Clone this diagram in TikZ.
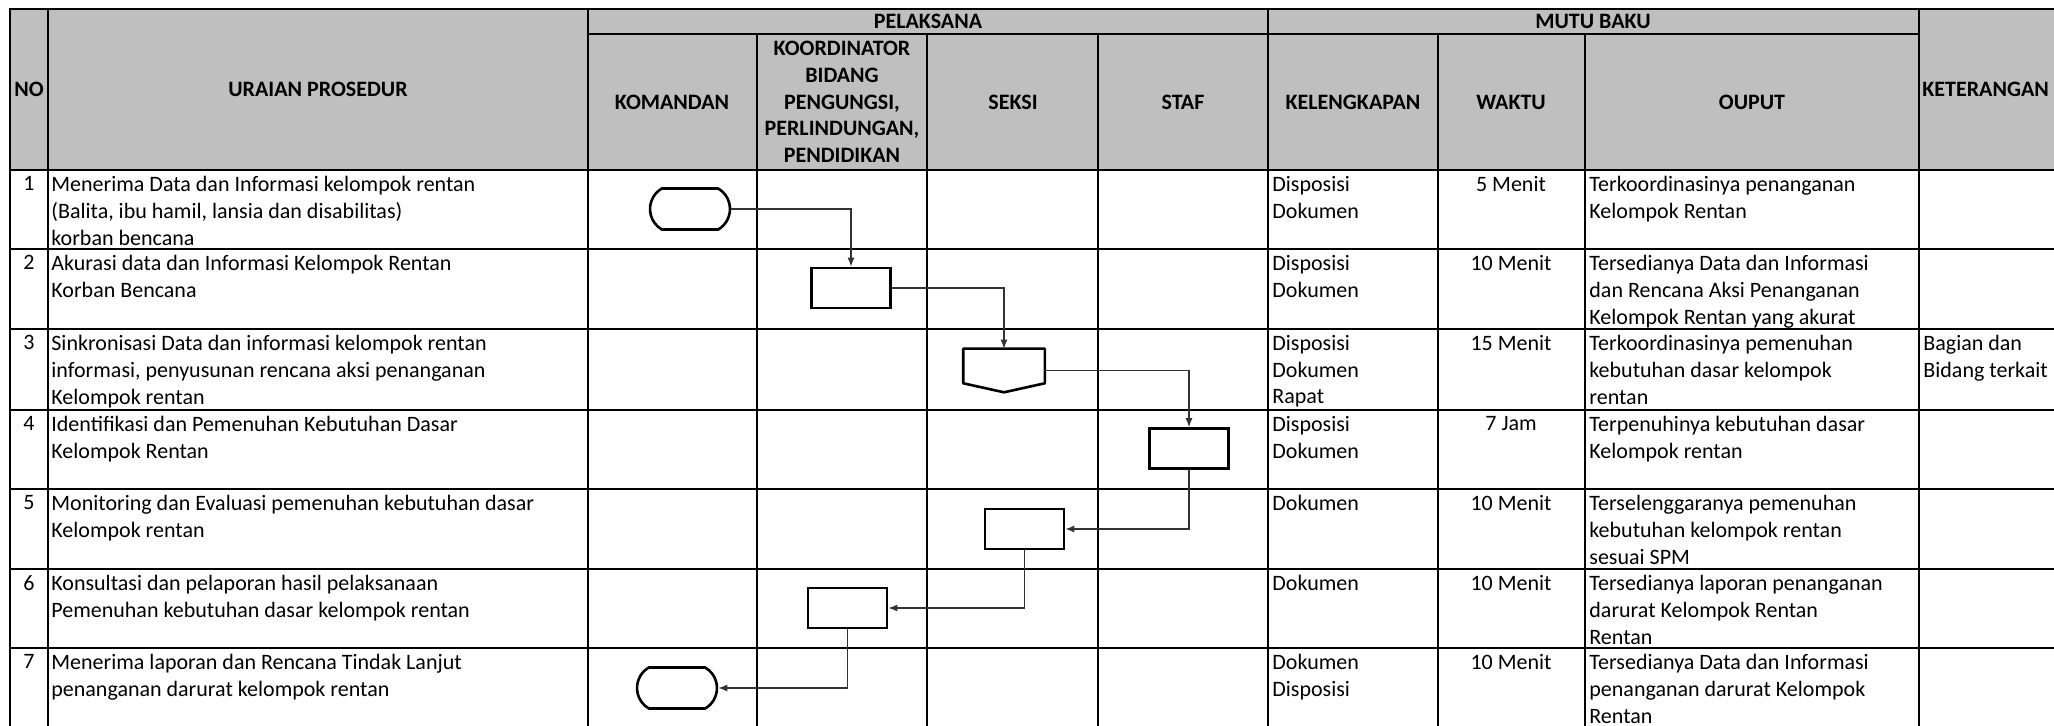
\documentclass[tikz,border=0pt]{standalone}
\usepackage{fontspec}
\setmainfont{Carlito}
\usetikzlibrary{arrows.meta,shapes.misc}

\definecolor{hdrgray}{RGB}{191,191,191}
\newcommand{\sopfont}{\fontsize{11}{13.35}\selectfont}

\begin{document}
\begin{tikzpicture}[x=0.5pt,y=-0.5pt,
		tabline/.style={line width=1.3pt,line cap=rect},
		hdr/.style={font=\sopfont\bfseries,align=center,inner sep=0pt},
		cell/.style={font=\sopfont,anchor=north west,align=left,inner sep=0pt},
		cellc/.style={font=\sopfont,anchor=north,align=center,inner sep=0pt},
		proc/.style={draw,line width=1.3pt,minimum width=39.5pt,minimum height=20pt,inner sep=0pt},
		term/.style={draw,rounded rectangle,rounded rectangle arc length=120,line width=1.3pt,minimum width=40pt,minimum height=20.5pt,inner sep=0pt},
		flow/.style={-{Latex[length=4.5pt,width=3.5pt]},line width=0.6pt,black!80}]
		\useasboundingbox (0,0) rectangle (2054,726);
		\clip (0,0) rectangle (2054,726);
		% ===== HEADER: gray band =====
		\fill[hdrgray] (10,9) rectangle (2060,170);
		% ===== TABLE RULES =====
		\foreach \x in {10,48,588,1268,1919}
			\draw[tabline] (\x,9) -- (\x,740);
		\foreach \x in {757,927,1098,1438,1585}
			\draw[tabline] (\x,34) -- (\x,740);
		\foreach \y in {9,170,249,329,410,489,569,648}
			\draw[tabline] (10,\y) -- (2060,\y);
		\draw[tabline] (588,34) -- (1919,34);
		% ===== HEADER TEXTS =====
		\node[hdr] (hno) at (29,89.5) {NO};
		\node[hdr] (huraian) at (318,89.5) {URAIAN PROSEDUR};
		\node[hdr] (hpelaksana) at (928,21.5) {PELAKSANA};
		\node[hdr] (hmutu) at (1593,21.5) {MUTU BAKU};
		\node[hdr,anchor=west] (hket) at (1922,89.5) {KETERANGAN};
		\foreach \x/\lab/\nm in {672/KOMANDAN/hkom, 842/{KOORDINATOR\\BIDANG\\PENGUNGSI,\\PERLINDUNGAN,\\PENDIDIKAN}/hkoord, 1013/SEKSI/hseksi, 1183/STAF/hstaf, 1353/KELENGKAPAN/hkel, 1511/WAKTU/hwaktu, 1752/OUPUT/houput} {
			\node[hdr] (\nm) at (\x,102) {\lab};
		}
		% ===== ROWS: procedure, completeness, time, output =====
		\foreach \i/\rowy/\uraian/\kel/\waktu/\hasil in {
			1/170/{Menerima Data dan Informasi kelompok rentan\\(Balita, ibu hamil, lansia dan disabilitas)\\korban bencana}/{Disposisi\\Dokumen}/{5 Menit}/{Terkoordinasinya penanganan\\Kelompok Rentan},
			2/249/{Akurasi data dan Informasi Kelompok Rentan\\Korban Bencana}/{Disposisi\\Dokumen}/{10 Menit}/{Tersedianya Data dan Informasi\\dan Rencana Aksi Penanganan\\Kelompok Rentan yang akurat},
			3/329/{Sinkronisasi Data dan informasi kelompok rentan\\informasi, penyusunan rencana aksi penanganan\\Kelompok rentan}/{Disposisi\\Dokumen\\Rapat}/{15 Menit}/{Terkoordinasinya pemenuhan\\kebutuhan dasar kelompok\\rentan},
			4/410/{Identifikasi dan Pemenuhan Kebutuhan Dasar\\Kelompok Rentan}/{Disposisi\\Dokumen}/{7 Jam}/{Terpenuhinya kebutuhan dasar\\Kelompok rentan},
			5/489/{Monitoring dan Evaluasi pemenuhan kebutuhan dasar\\Kelompok rentan}/{Dokumen}/{10 Menit}/{Terselenggaranya pemenuhan\\kebutuhan kelompok rentan\\sesuai SPM},
			6/569/{Konsultasi dan pelaporan hasil pelaksanaan\\Pemenuhan kebutuhan dasar kelompok rentan}/{Dokumen}/{10 Menit}/{Tersedianya laporan penanganan\\darurat Kelompok Rentan\\Rentan},
			7/648/{Menerima laporan dan Rencana Tindak Lanjut\\penanganan darurat kelompok rentan}/{Dokumen\\Disposisi}/{10 Menit}/{Tersedianya Data dan Informasi\\penanganan darurat Kelompok\\Rentan}} {
			\node[cellc] (no\i) at (29,\rowy+6) {\i};
			\node[cell] (ur\i) at (51,\rowy+6) {\uraian};
			\node[cell] (kel\i) at (1272,\rowy+6) {\kel};
			\node[cellc] (wk\i) at (1511,\rowy+6) {\waktu};
			\node[cell] (out\i) at (1589,\rowy+6) {\hasil};
		}
		\node[cell] (ket3) at (1923,335) {Bagian dan\\Bidang terkait};
		% ===== FLOW SYMBOLS =====
		\node[term] (t1) at (690,209) {};
		\node[proc] (p2) at (851,288) {};
		\node[proc,draw=none,minimum height=20.5pt] (o3) at (1004,370.5) {};
		\draw[line width=1.3pt,line join=round] (o3.north west) -- (o3.north east) -- ([yshift=4.5pt]o3.south east) -- (o3.south) -- ([yshift=4.5pt]o3.south west) -- cycle;
		\node[proc] (p4) at (1189,448.5) {};
		\node[proc] (p5) at (1024.5,529) {};
		\node[proc] (p6) at (847.5,608) {};
		\node[term] (t7) at (677,688) {};
		% ===== CONNECTORS =====
		\draw[flow] (t1.east) -| (p2.north);
		\draw[flow] (p2.east) -| (o3.north);
		\draw[flow] (o3.east) -| (p4.north);
		\draw[flow] (p4.south) |- (p5.east);
		\draw[flow] (p5.south) |- (p6.east);
		\draw[flow] (p6.south) |- (t7.east);
	\end{tikzpicture}
\end{document}
